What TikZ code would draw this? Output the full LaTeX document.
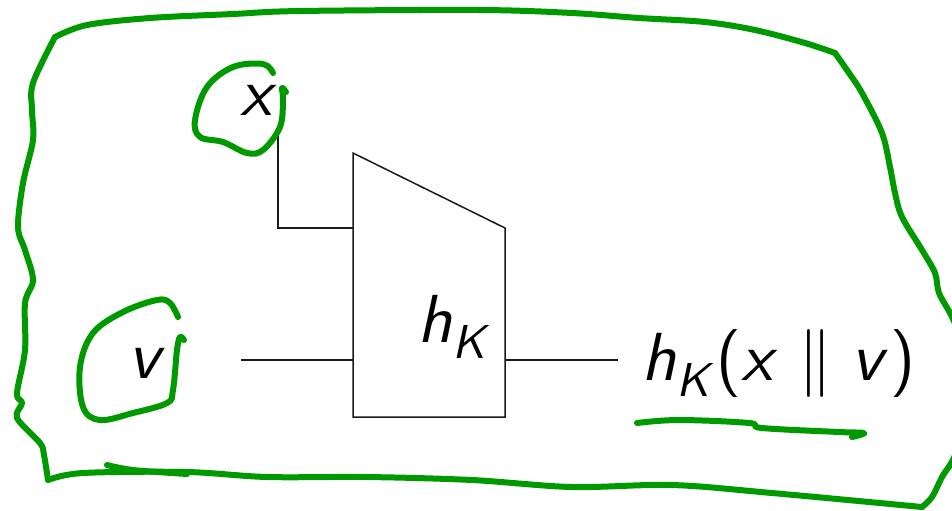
\documentclass[tikz,border=0pt]{standalone}
\usepackage{fontspec}
\usepackage{unicode-math}
\setmathfont{Latin Modern Math}
\usepackage{tikz}
\usetikzlibrary{positioning,calc}
\definecolor{InkGreen}{HTML}{009A00}
\definecolor{WireGray}{HTML}{1A1A1A}
\newcommand{\vsym}[1]{\symsfit{#1}}
\newcommand{\prn}[1]{\textsf{#1}}

\begin{document}
\begin{tikzpicture}[x=0.5pt, y=-0.5pt, line width=0.75pt,
  wire/.style={draw=WireGray, line join=miter},
  label/.style={inner sep=0pt, font=\fontsize{34}{40}\selectfont},
  ink/.style={draw=InkGreen, line width=3pt, line cap=round, line join=round}]

\useasboundingbox (0,0) rectangle (952,510);

\coordinate (blk-tl) at (353,153);
\coordinate (blk-tr) at (505,228);
\coordinate (blk-br) at (505,417);
\coordinate (blk-bl) at (353,417);
\draw[wire] (blk-tl) -- (blk-tr) -- (blk-br) -- (blk-bl) -- cycle;
\node[label, anchor=base west] (hk) at (417,342) {$\vsym{h}_{\vsym{K}}$};

\node[label, anchor=base] (xlab) at (260,115) {$\vsym{x}$};
\node[label, anchor=base] (vlab) at (148,378) {$\vsym{v}$};
\node[label, anchor=base west] (out) at (641,380) {$\vsym{h}_{\vsym{K}}\prn{(}\vsym{x} \parallel \vsym{v}\prn{)}$};

\coordinate (xin) at (278,135);
\coordinate (xport) at (353,228);
\coordinate (vin) at (241,360);
\coordinate (vport) at (353,360);
\coordinate (oport) at (505,360);
\coordinate (oend) at (618,360);
\draw[wire] (xin) |- (xport);
\draw[wire] (vin) -- (vport);
\draw[wire] (oport) -- (oend);

\draw[ink] plot[smooth, tension=0.55] coordinates {(55,37) (87,25) (150,18) (233,14) (300,11) (480,10) (572,13) (639,18) (705,22) (755,30) (805,43) (835,53)};
\draw[ink] plot[smooth, tension=0.55] coordinates {(835,53) (849,73) (862,93) (882,133) (890,167) (895,193) (902,217) (922,250) (935,273) (939,293) (952,317) (962,345) (964,400) (956,452) (942,477) (932,497) (922,507)};
\draw[ink] plot[smooth, tension=0.55] coordinates {(922,507) (772,493) (672,485) (572,487) (472,480) (367,477) (267,477) (187,472) (83,473) (48,480)};
\draw[ink] plot[smooth, tension=0.55] coordinates {(48,480) (44,455) (40,443) (17,418) (22,403) (17,393) (25,350) (25,303) (33,280) (25,250) (18,227) (23,183) (33,140) (32,110) (33,83) (55,37)};
\draw[ink] plot[smooth, tension=0.55] coordinates {(107,465) (133,470) (187,474)};

\draw[ink] plot[smooth, tension=0.6] coordinates {(273,73) (263,64) (233,67) (207,87) (195,120) (200,137) (223,142) (247,153) (263,150) (280,127) (283,100) (282,88) (286,92)};
\draw[ink] plot[smooth, tension=0.6] coordinates {(178,317) (170,303) (157,300) (123,312) (93,333) (80,367) (83,407) (100,420) (133,413) (167,403) (173,390) (177,350) (180,337) (184,340)};
\draw[ink] plot[smooth, tension=0.6] coordinates {(637,423) (679,420) (749,423) (762,428) (839,432) (864,433) (852,437)};
\end{tikzpicture}
\end{document}
